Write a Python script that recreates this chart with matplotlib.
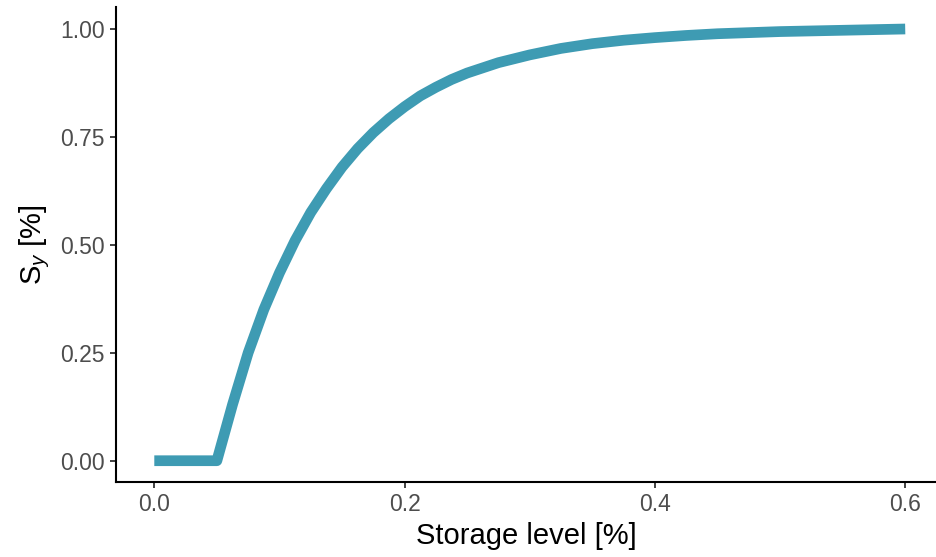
import matplotlib
matplotlib.use('Agg')
import matplotlib.pyplot as plt

# Storage level vs specific yield
storage = [0.0, 0.05, 0.0625, 0.075, 0.0875, 0.1, 0.1125, 0.125, 0.1375,
           0.15, 0.1625, 0.175, 0.1875, 0.2, 0.2125, 0.225, 0.2375, 0.25,
           0.275, 0.3, 0.325, 0.35, 0.375, 0.4, 0.425, 0.45, 0.5, 0.55, 0.6]
sy = [0.0, 0.0, 0.13, 0.25, 0.35, 0.435, 0.51, 0.575, 0.63,
      0.68, 0.723, 0.76, 0.792, 0.82, 0.845, 0.865, 0.883, 0.898,
      0.922, 0.94, 0.955, 0.966, 0.974, 0.98, 0.985, 0.989, 0.994, 0.997, 1.0]

x_ticks = [0.0, 0.2, 0.4, 0.6]
y_ticks = [0.0, 0.25, 0.5, 0.75, 1.0]

plt.rcParams['font.family'] = ['Liberation Sans', 'DejaVu Sans']
plt.rcParams['mathtext.fontset'] = 'custom'
plt.rcParams['mathtext.rm'] = 'Liberation Sans'
plt.rcParams['mathtext.it'] = 'Liberation Sans:italic'

fig = plt.figure(figsize=(9.36, 5.57), dpi=100)
ax = fig.add_axes([116 / 936, 1 - 482.3 / 557, 1 - 116 / 936, (482.3 - 7.4) / 557])

ax.plot(storage, sy, color='#3E9BB3', linewidth=7.7, solid_capstyle='butt',
        solid_joinstyle='round')

ax.set_xlim(-0.0306, 0.6246)
ax.set_ylim(-0.05, 1.05)
ax.set_xticks(x_ticks)
ax.set_xticklabels(['0.0', '0.2', '0.4', '0.6'])
ax.set_yticks(y_ticks)
ax.set_yticklabels(['0.00', '0.25', '0.50', '0.75', '1.00'])

for side in ['top', 'right']:
    ax.spines[side].set_visible(False)
for side in ['left', 'bottom']:
    ax.spines[side].set_linewidth(1.5)
    ax.spines[side].set_color('black')

ax.tick_params(axis='both', length=4, width=1.3, color='#333333',
               labelcolor='#4D4D4D', labelsize=16.5, pad=4)

ax.set_xlabel('Storage level [%]', fontsize=21, color='black', labelpad=4)
ax.set_ylabel(r'S$_{y}$ [%]', fontsize=21, color='black', labelpad=6)

fig.savefig('out.png', dpi=100)
plt.close(fig)
